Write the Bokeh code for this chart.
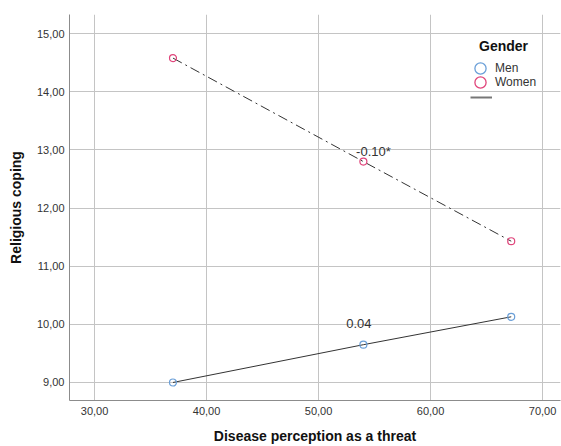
from bokeh.plotting import figure
from bokeh.models import Range1d, FixedTicker, Legend, LegendItem, Label
from bokeh.core.properties import value
from bokeh.embed import file_html
from bokeh.resources import INLINE

# data
threat = [37.0, 54.0, 67.2]
men = [9.00, 9.65, 10.13]
women = [14.58, 12.80, 11.43]
x_ticks = [30, 40, 50, 60, 70]
x_tick_labels = ["30,00", "40,00", "50,00", "60,00", "70,00"]
y_ticks = [9, 10, 11, 12, 13, 14, 15]
y_tick_labels = ["9,00", "10,00", "11,00", "12,00", "13,00", "14,00", "15,00"]
coef_labels = ["0.04", "-0.10*"]
coef_x = [53.6, 54.9]
coef_y = [10.02, 12.97]
legend_title = "Gender"
series_names = ["Men", "Women"]

FONT = "Liberation Sans"
MEN_C = "#6a9fd8"
WOMEN_C = "#e0457b"
LINE_C = "#333333"
NAN = float("nan")

p = figure(width=561, height=446, output_backend="svg", toolbar_location=None,
           x_range=Range1d(27.76, 71.6), y_range=Range1d(8.69, 15.33),
           min_border_left=69, min_border_right=1, min_border_top=14, min_border_bottom=46)
p.outline_line_color = None
p.background_fill_color = "white"

for ax in (p.xaxis[0], p.yaxis[0]):
    ax.major_tick_in = 0
    ax.major_tick_out = 0
    ax.minor_tick_in = 0
    ax.minor_tick_out = 0
    ax.axis_line_color = "#8c8c8c"
    ax.major_label_text_font = FONT
    ax.major_label_text_font_size = "11px"
    ax.major_label_text_color = "#333333"
    ax.axis_label_text_font = FONT
    ax.axis_label_text_font_style = "bold"
    ax.axis_label_text_font_size = "14px"
    ax.axis_label_text_color = "#111111"

p.xaxis.ticker = FixedTicker(ticks=x_ticks)
p.yaxis.ticker = FixedTicker(ticks=y_ticks)
p.xaxis.major_label_overrides = dict(zip(x_ticks, x_tick_labels))
p.yaxis.major_label_overrides = dict(zip(y_ticks, y_tick_labels))
p.xaxis.axis_label = "Disease perception as a threat"
p.yaxis.axis_label = "Religious coping"
p.xaxis.major_label_standoff = 6
p.yaxis.major_label_standoff = 5
p.xaxis.axis_label_standoff = 10
p.yaxis.axis_label_standoff = 10

p.grid.grid_line_color = "#c4c4c4"
p.grid.grid_line_width = 1

# fit lines
p.line(threat, men, line_color=LINE_C, line_width=1)
p.line(threat, women, line_color=LINE_C, line_width=1, line_dash="10 4 2 4")

p.scatter(threat, men, marker="circle", size=7, fill_color="white", fill_alpha=0,
          line_color=MEN_C, line_width=1.2)
p.scatter(threat, women, marker="circle", size=7, fill_color="white", fill_alpha=0,
          line_color=WOMEN_C, line_width=1.2)

p.text(coef_x, coef_y, text=coef_labels, text_font=value(FONT), text_font_size="13px",
       text_color="#333333", text_align="center", text_baseline="middle")

# legend-only renderers (NaN so nothing is drawn in the plot)
lm = p.scatter([NAN], [NAN], marker="circle", size=11, fill_alpha=0, line_color=MEN_C, line_width=1.3)
lw = p.scatter([NAN], [NAN], marker="circle", size=11, fill_alpha=0, line_color=WOMEN_C, line_width=1.3)
ll = p.line([NAN, NAN], [NAN, NAN], line_color="#777777", line_width=2)


def make_legend(items, loc, gw, gh):
    lg = Legend(items=items, location=loc)
    lg.label_text_font = FONT
    lg.label_text_font_size = "12px"
    lg.label_text_color = "#333333"
    lg.label_standoff = 1
    lg.background_fill_alpha = 0
    lg.border_line_alpha = 0
    lg.glyph_height = gh
    lg.glyph_width = gw
    lg.label_height = 14
    lg.spacing = 0
    lg.padding = 4
    lg.margin = 0
    p.add_layout(lg, "center")
    return lg


make_legend([LegendItem(label=series_names[0], renderers=[lm])], (393, 314), 28, 28)
make_legend([LegendItem(label=series_names[1], renderers=[lw])], (393, 300), 28, 28)
make_legend([LegendItem(label=" ", renderers=[ll])], (397, 292), 22, 14)

p.add_layout(Label(x=434, y=355, x_units="screen", y_units="screen", text=legend_title,
                   text_font=FONT, text_font_style="bold", text_font_size="14px",
                   text_color="#111111", text_align="center", text_baseline="middle"), "center")

open("out.html", "w").write(file_html(p, INLINE))
